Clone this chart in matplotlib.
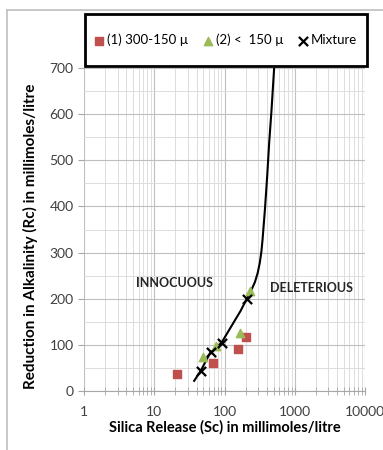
import numpy as np
import matplotlib.pyplot as plt
from matplotlib.lines import Line2D
from matplotlib.patches import Rectangle
from matplotlib.ticker import LogLocator, FixedLocator, NullFormatter

plt.rcParams['font.family'] = ['Lato', 'DejaVu Sans']

# (1) 300-150 micron fraction
sc_coarse = [21, 68, 155, 200]
rc_coarse = [37, 61, 91, 117]
# (2) < 150 micron fraction
sc_fine = [49, 76, 166, 230]
rc_fine = [74, 98, 126, 217]
# mixture
sc_mix = [46, 64, 92, 209]
rc_mix = [43, 85, 104, 200]

# boundary between innocuous and deleterious zones
sc_curve = [37, 46, 62, 91, 133, 170, 206, 240, 271, 297, 318, 335, 348, 376, 405, 432, 467, 509]
rc_curve = [22, 44, 82, 105, 147, 174, 199, 218, 236, 256, 278, 302, 328, 393, 465, 537, 609, 700]

W, H = 383, 450
fig = plt.figure(figsize=(W / 100, H / 100), dpi=100)
ax = fig.add_axes([84 / W, 1 - 391 / H, 281 / W, 323 / H])

ax.plot(sc_curve, rc_curve, color='black', lw=1.5, zorder=3)
ax.scatter(sc_coarse, rc_coarse, marker='s', s=34, color='#C0504D', zorder=4,
           label='(1) 300-150 µ')
ax.scatter(sc_fine, rc_fine, marker='^', s=36, color='#9BBB59', zorder=4,
           label='(2) <  150 µ')
ax.scatter(sc_mix, rc_mix, marker='x', s=44, color='black', lw=1.6, zorder=5,
           label='Mixture')

ax.set_xscale('log')
ax.set_xlim(1, 10000)
ax.set_ylim(0, 700)
ax.xaxis.set_minor_locator(LogLocator(base=10, subs=np.arange(2, 10), numticks=10))
ax.xaxis.set_minor_formatter(NullFormatter())
ax.set_xticks([1, 10, 100, 1000, 10000])
ax.set_xticklabels(['1', '10', '100', '1000', '10000'])
ax.set_yticks(range(0, 701, 100))
ax.yaxis.set_minor_locator(FixedLocator(range(50, 700, 100)))

ax.grid(True, which='major', color='#BFBFBF', lw=0.8)
ax.grid(True, which='minor', color='#DDDDDD', lw=0.7)
ax.set_axisbelow(True)

for side in ['top', 'right', 'left']:
    ax.spines[side].set_visible(False)
ax.spines['bottom'].set_color('#A6A6A6')
ax.tick_params(axis='x', which='both', direction='inout', length=6, color='#A6A6A6',
               labelsize=10, labelcolor='#404040', pad=8)
ax.tick_params(axis='y', which='major', direction='out', length=4, color='#A6A6A6',
               labelsize=10, labelcolor='#404040')
ax.tick_params(axis='y', which='minor', length=0)

ax.set_xlabel('Silica Release (Sc) in millimoles/litre', fontsize=10.5, fontweight='bold',
              labelpad=1)
ax.set_ylabel('Reduction in Alkalinity (Rc) in millimoles/litre', fontsize=11,
              fontweight='bold')
ax.yaxis.set_label_coords((38 - 84) / 281, (391 - 236) / 323)

ax.text(19.6, 234, 'INNOCUOUS', fontsize=9, fontweight='bold', ha='center',
        va='center', color='#262626')
ax.text(1750, 223, 'DELETERIOUS', fontsize=9, fontweight='bold', ha='center',
        va='center', color='#262626')

# legend box above the plot area
fig.add_artist(Rectangle((85 / W, 1 - 66 / H), 282 / W, 52 / H, transform=fig.transFigure,
                         fill=False, edgecolor='black', lw=2))
ax.legend(loc='center', bbox_to_anchor=(226 / W, 1 - 40 / H),
          bbox_transform=fig.transFigure, ncol=3, fontsize=9.5, frameon=False,
          handlelength=0.6, handletextpad=0.3, columnspacing=1.2, scatterpoints=1)

# outer chart border
fig.add_artist(Line2D([0.018, 0.018], [0, 0.978], color='#BFBFBF', lw=1.2))
fig.add_artist(Line2D([0.018, 1.0], [0.978, 0.978], color='#BFBFBF', lw=1.2))

fig.savefig('out.png', dpi=100)
